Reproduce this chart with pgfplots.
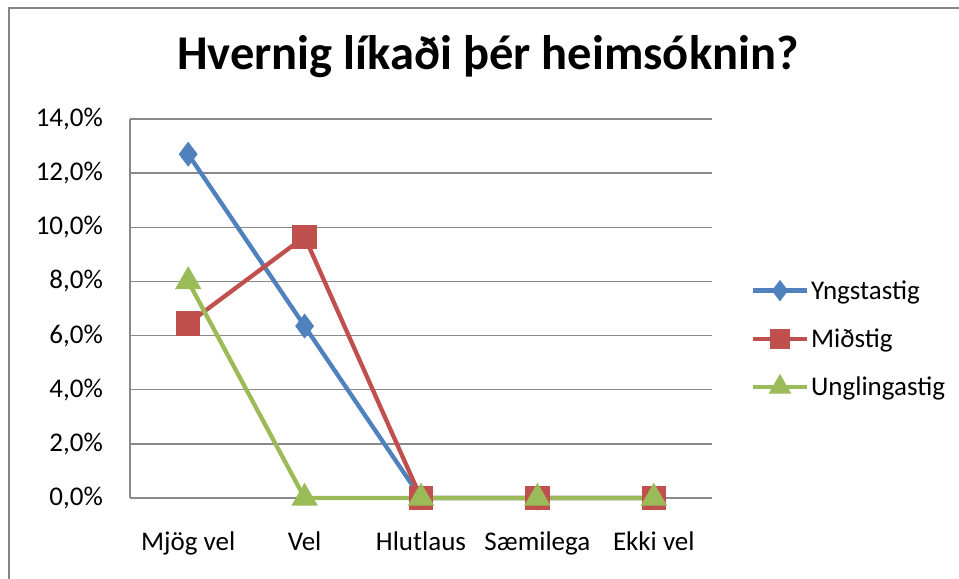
\documentclass[border=0pt]{standalone}
\usepackage{pgfplots}
\pgfplotsset{compat=1.18}
\usepackage{fontspec}
\setmainfont{Carlito}

\definecolor{yngsta}{HTML}{4F81BD}
\definecolor{midstig}{HTML}{C0504D}
\definecolor{ungl}{HTML}{9BBB59}
\definecolor{gridgray}{HTML}{898989}
\definecolor{framegray}{HTML}{868686}

\begin{document}
\begin{tikzpicture}
  \useasboundingbox (0,0) rectangle (959bp,579bp);
  % chart frame (left and top edges visible)
  \draw[framegray, line width=2bp] (9bp,-5bp) -- (9bp,571bp) -- (965bp,571bp);
  \begin{axis}[
      at={(130bp,81bp)}, anchor=south west,
      scale only axis, width=582bp, height=379bp,
      xmin=-0.5, xmax=4.5, ymin=0, ymax=14,
      xtick={0,1,2,3,4},
      xticklabels={Mjög vel, Vel, Hlutlaus, Sæmilega, Ekki vel},
      ytick={0,2,4,6,8,10,12,14},
      yticklabels={{0,0\%},{2,0\%},{4,0\%},{6,0\%},{8,0\%},{10,0\%},{12,0\%},{14,0\%}},
      axis lines*=left,
      axis line style={draw=gridgray, line width=1.5bp, -},
      major tick length=0pt,
      ymajorgrids=true,
      grid style={gridgray, line width=1.5bp},
      ticklabel style={font=\fontsize{27bp}{32bp}\selectfont, inner sep=0pt},
      yticklabel style={anchor=east, xshift=-25bp},
      xticklabel style={anchor=north, yshift=-32bp},
      title={Hvernig líkaði þér heimsóknin?},
      title style={at={(0.615,1.116)}, anchor=base, yshift=0pt,
                   font=\bfseries\fontsize{48.5bp}{55bp}\selectfont},
      clip=false,
      line width=4.3bp,
      legend style={at={(1.063,0.420)}, anchor=west, draw=none, fill=none,
                    font=\fontsize{27bp}{32bp}\selectfont,
                    inner sep=0pt, row sep=24bp,
                    nodes={inner sep=2bp}},
      legend cell align=left,
      legend image code/.code={
        \draw[#1, every mark/.append style={scale=0.8}, mark repeat=2, mark phase=2]
          plot coordinates {(0bp,0bp) (27bp,0bp) (54bp,0bp)};
      },
    ]
    \addplot[color=yngsta, mark=diamond*, mark size=9bp,
             mark options={solid, fill=yngsta, draw=none}]
      coordinates {(0,12.7) (1,6.35) (2,0) (3,0) (4,0)};
    \addplot[color=midstig, mark=square*, mark size=10bp,
             mark options={solid, fill=midstig, draw=none}]
      coordinates {(0,6.45) (1,9.65) (2,0) (3,0) (4,0)};
    \addplot[color=ungl, mark=triangle*, mark size=11bp,
             mark options={solid, fill=ungl, draw=none}]
      coordinates {(0,8.0) (1,0) (2,0) (3,0) (4,0)};
    \legend{Yngstastig, Miðstig, Unglingastig}
  \end{axis}
\end{tikzpicture}
\end{document}
